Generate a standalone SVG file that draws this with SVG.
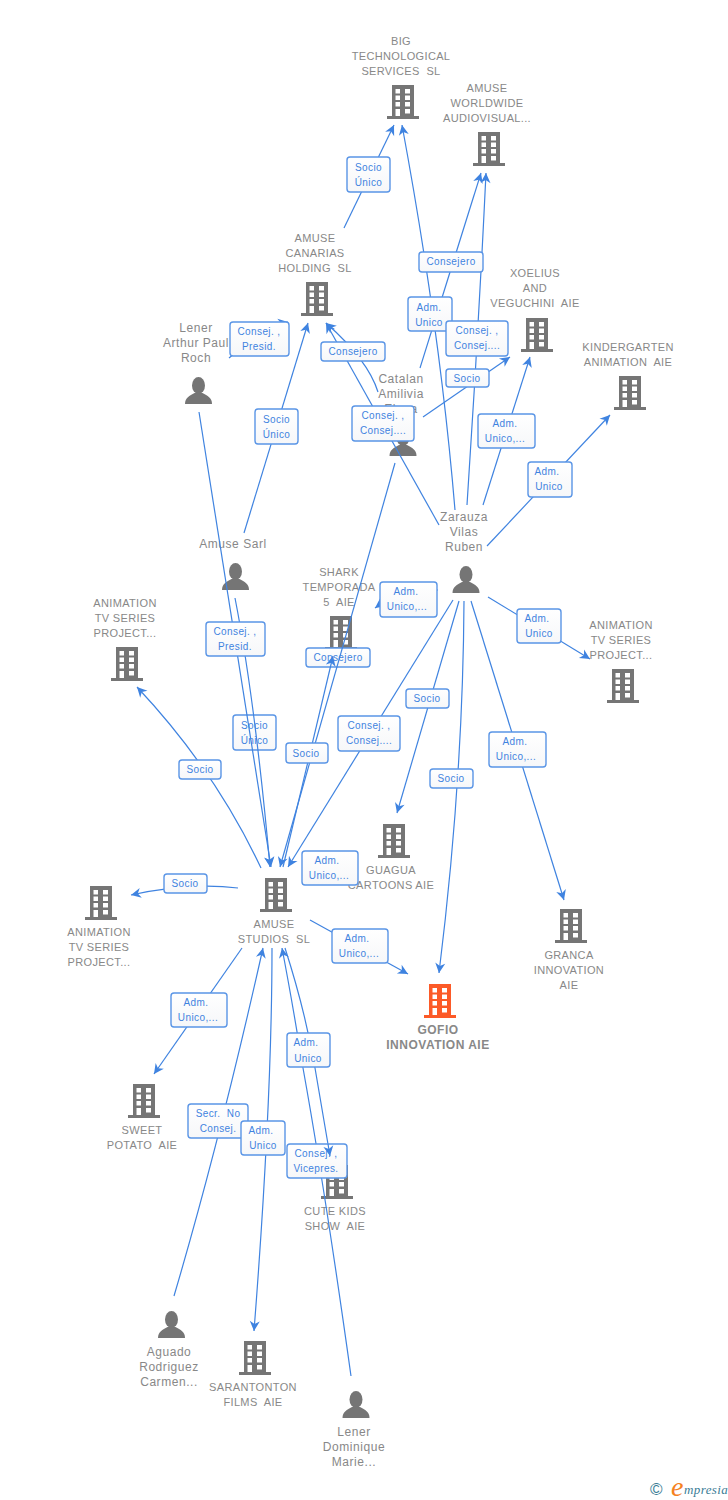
<svg xmlns="http://www.w3.org/2000/svg" width="728" height="1500" viewBox="0 0 728 1500">
<style>
text{font-family:"Liberation Sans",Arial,sans-serif;white-space:pre}
.n{font-size:11px;fill:#888;text-anchor:middle;letter-spacing:.35px}
.p{font-size:12px;fill:#888;text-anchor:middle;letter-spacing:.55px}
.g{font-size:12px;fill:#888;text-anchor:middle;font-weight:bold;letter-spacing:.5px}
.ic{fill:#757575}
.or{fill:#fc5a28}
.c{fill:none;stroke:#3f83e0;stroke-width:1.2;marker-end:url(#a)}
.b{fill:url(#lg);stroke:#5a95e6;stroke-width:1.4}
.t{font-size:10px;fill:#3f83e0;text-anchor:middle;letter-spacing:.4px}
</style>
<defs>
<linearGradient id="lg" x1="0" y1="0" x2="0" y2="1"><stop offset="0" stop-color="#fff"/><stop offset="1" stop-color="#f6f7f9"/></linearGradient>
<marker id="a" markerUnits="userSpaceOnUse" markerWidth="12" markerHeight="12" viewBox="0 0 12 12" refX="11" refY="6" orient="auto"><path d="M11,6 L1,1 L4,6 L1,11 Z" fill="#3f83e0"/></marker>
<path id="bd" fill-rule="evenodd" d="M-11,0H11V31H16V34H-16V31H-11ZM-7.5,4V8.5H-3V4ZM2,4V8.5H7V4ZM-7.5,10.5V15H-3V10.5ZM2,10.5V15H7V10.5ZM-7.5,17V21.5H-3V17ZM2,17V21.5H7V17ZM-7.5,24V31H-3V24ZM2,24V28.5H7V24Z"/>
<g id="pr"><ellipse cx="0" cy="8.5" rx="6.5" ry="8.5"/><path d="M-13.5,27C-13.5,20.5 -9,19 -4,16L4,16C9,19 13.5,20.5 13.5,27Z"/></g>
</defs>

<g id="nodes">
<g id="n-big"><use href="#bd" x="403" y="85" class="ic"/><text class="n" x="401" y="45">BIG</text><text class="n" x="401" y="60">TECHNOLOGICAL</text><text class="n" x="401" y="75">SERVICES  SL</text></g>
<g id="n-worldwide"><use href="#bd" x="489" y="132" class="ic"/><text class="n" x="487" y="92">AMUSE</text><text class="n" x="487" y="107">WORLDWIDE</text><text class="n" x="487" y="122">AUDIOVISUAL...</text></g>
<g id="n-canarias"><use href="#bd" x="317" y="282" class="ic"/><text class="n" x="315" y="242">AMUSE</text><text class="n" x="315" y="257">CANARIAS</text><text class="n" x="315" y="272">HOLDING  SL</text></g>
<g id="n-xoelius"><use href="#bd" x="537" y="318" class="ic"/><text class="n" x="535" y="277">XOELIUS</text><text class="n" x="535" y="292">AND</text><text class="n" x="535" y="307">VEGUCHINI  AIE</text></g>
<g id="n-kinder"><use href="#bd" x="630" y="376" class="ic"/><text class="n" x="628" y="351">KINDERGARTEN</text><text class="n" x="628" y="366">ANIMATION  AIE</text></g>
<g id="n-lener-a"><use href="#pr" x="198.500" y="377" class="ic"/><text class="p" x="196" y="332">Lener</text><text class="p" x="196" y="347">Arthur Paul</text><text class="p" x="196" y="362">Roch</text></g>
<g id="n-catalan"><use href="#pr" x="403" y="429" class="ic"/><text class="p" x="401" y="383">Catalan</text><text class="p" x="401" y="398">Amilivia</text><text class="p" x="401" y="413">Elena</text></g>
<g id="n-sarl"><use href="#pr" x="235.500" y="563" class="ic"/><text class="p" x="233" y="548">Amuse Sarl</text></g>
<g id="n-zarauza"><use href="#pr" x="466" y="566" class="ic"/><text class="p" x="464" y="521">Zarauza</text><text class="p" x="464" y="536">Vilas</text><text class="p" x="464" y="551">Ruben</text></g>
<g id="n-shark"><use href="#bd" x="341" y="616" class="ic"/><text class="n" x="339" y="576">SHARK</text><text class="n" x="339" y="591">TEMPORADA</text><text class="n" x="339" y="606">5  AIE</text></g>
<g id="n-anim1"><use href="#bd" x="127" y="647" class="ic"/><text class="n" x="125" y="607">ANIMATION</text><text class="n" x="125" y="622">TV SERIES</text><text class="n" x="125" y="637">PROJECT...</text></g>
<g id="n-anim2"><use href="#bd" x="623" y="669" class="ic"/><text class="n" x="621" y="629">ANIMATION</text><text class="n" x="621" y="644">TV SERIES</text><text class="n" x="621" y="659">PROJECT...</text></g>
<g id="n-guagua"><use href="#bd" x="394" y="824" class="ic"/><text class="n" x="391" y="874">GUAGUA</text><text class="n" x="391" y="889">CARTOONS AIE</text></g>
<g id="n-studios"><use href="#bd" x="276" y="878" class="ic"/><text class="n" x="274" y="928">AMUSE</text><text class="n" x="274" y="943">STUDIOS  SL</text></g>
<g id="n-anim3"><use href="#bd" x="101" y="886" class="ic"/><text class="n" x="99" y="936">ANIMATION</text><text class="n" x="99" y="951">TV SERIES</text><text class="n" x="99" y="966">PROJECT...</text></g>
<g id="n-gofio"><use href="#bd" x="440" y="984" class="or"/><text class="g" x="438" y="1034">GOFIO</text><text class="g" x="438" y="1049">INNOVATION AIE</text></g>
<g id="n-granca"><use href="#bd" x="571" y="909" class="ic"/><text class="n" x="569" y="959">GRANCA</text><text class="n" x="569" y="974">INNOVATION</text><text class="n" x="569" y="989">AIE</text></g>
<g id="n-sweet"><use href="#bd" x="144" y="1084" class="ic"/><text class="n" x="142" y="1134">SWEET</text><text class="n" x="142" y="1149">POTATO  AIE</text></g>
<g id="n-cute"><use href="#bd" x="337" y="1165" class="ic"/><text class="n" x="335" y="1215">CUTE KIDS</text><text class="n" x="335" y="1230">SHOW  AIE</text></g>
<g id="n-aguado"><use href="#pr" x="171.500" y="1311" class="ic"/><text class="p" x="169" y="1356">Aguado</text><text class="p" x="169" y="1371">Rodriguez</text><text class="p" x="169" y="1386">Carmen...</text></g>
<g id="n-sarantonton"><use href="#bd" x="255" y="1341" class="ic"/><text class="n" x="253" y="1391">SARANTONTON</text><text class="n" x="253" y="1406">FILMS  AIE</text></g>
<g id="n-lener-d"><use href="#pr" x="356" y="1391" class="ic"/><text class="p" x="354" y="1436">Lener</text><text class="p" x="354" y="1451">Dominique</text><text class="p" x="354" y="1466">Marie...</text></g>
</g>

<g id="connectors">
<g id="labels-under">
<g><rect class="b" x="233" y="715" width="43" height="35" rx="3"/><text class="t" x="254.500" y="729">Socio</text><text class="t" x="254.500" y="744">Único</text></g>
<g><rect class="b" x="306" y="648" width="64" height="19" rx="3"/><text class="t" x="338" y="661">Consejero</text></g>
</g>
<g id="lines">
<path class="c" d="M344,228L394,125"/>
<path class="c" d="M455,510Q440,330 402,125"/>
<path class="c" d="M420,368L481,173"/>
<path class="c" d="M467,505Q478,340 486,173"/>
<path class="c" d="M423,417L510,357"/>
<path class="c" d="M483,505L530,357"/>
<path class="c" d="M487,546L610,415"/>
<path class="c" d="M229,358Q270,325 288,322"/>
<path class="c" d="M244,533L308,323"/>
<path class="c" d="M439,525L326,323"/>
<path class="c" d="M378,392Q368,360 326,323"/>
<path class="c" d="M199,412L271,867"/>
<path class="c" d="M235,598Q255,700 270,867"/>
<path class="c" d="M395,463L280,867"/>
<path class="c" d="M283,867L333,656"/>
<path class="c" d="M438,590Q400,590 375,608"/>
<path class="c" d="M453,600L288,867"/>
<path class="c" d="M459,601L397,813"/>
<path class="c" d="M464,601Q463,780 439,973"/>
<path class="c" d="M471,601L564,900"/>
<path class="c" d="M488,597L590,659"/>
<path class="c" d="M261,868Q215,770 137,687"/>
<path class="c" d="M238,888Q190,882 131,895"/>
<path class="c" d="M310,920L408,974"/>
<path class="c" d="M242,948L154,1074"/>
<path class="c" d="M174,1296Q220,1140 263,948"/>
<path class="c" d="M272,948Q272,1100 254,1331"/>
<path class="c" d="M351,1376Q325,1190 303,1068Q292,1000 282,948"/>
<path class="c" d="M285,948Q305,1010 315,1068L330,1156"/>
</g>
<g id="labels">
<g><rect class="b" x="347" y="157" width="43" height="35" rx="3"/><text class="t" x="368.500" y="171">Socio</text><text class="t" x="368.500" y="186">Único</text></g>
<g><rect class="b" x="419" y="252" width="64" height="20" rx="3"/><text class="t" x="451" y="265">Consejero</text></g>
<g><rect class="b" x="408" y="297" width="44" height="34" rx="3"/><text class="t" x="429" y="311">Adm.</text><text class="t" x="429" y="326">Unico</text></g>
<g><rect class="b" x="446" y="321" width="62" height="35" rx="3"/><text class="t" x="477" y="334">Consej. ,</text><text class="t" x="477" y="349">Consej....</text></g>
<g><rect class="b" x="230" y="322" width="59" height="34" rx="3"/><text class="t" x="259" y="335">Consej. ,</text><text class="t" x="259" y="350">Presid.</text></g>
<g><rect class="b" x="321" y="342" width="64" height="19" rx="3"/><text class="t" x="353" y="355">Consejero</text></g>
<g><rect class="b" x="446" y="369" width="43" height="18" rx="3"/><text class="t" x="467" y="382">Socio</text></g>
<g><rect class="b" x="255" y="409" width="43" height="35" rx="3"/><text class="t" x="276.500" y="423">Socio</text><text class="t" x="276.500" y="438">Único</text></g>
<g><rect class="b" x="352" y="406" width="62" height="35" rx="3"/><text class="t" x="383" y="419">Consej. ,</text><text class="t" x="383" y="434">Consej....</text></g>
<g><rect class="b" x="478" y="414" width="57" height="34" rx="3"/><text class="t" x="505" y="427">Adm.</text><text class="t" x="505" y="442">Unico,...</text></g>
<g><rect class="b" x="528" y="462" width="44" height="35" rx="3"/><text class="t" x="547" y="475">Adm.</text><text class="t" x="549" y="490">Unico</text></g>
<g><rect class="b" x="380" y="582" width="57" height="35" rx="3"/><text class="t" x="406" y="595">Adm.</text><text class="t" x="407" y="610">Unico,...</text></g>
<g><rect class="b" x="206" y="622" width="59" height="34" rx="3"/><text class="t" x="235" y="635">Consej. ,</text><text class="t" x="235" y="650">Presid.</text></g>
<g><rect class="b" x="517" y="609" width="44" height="34" rx="3"/><text class="t" x="537" y="622">Adm.</text><text class="t" x="539" y="637">Unico</text></g>
<g><rect class="b" x="338" y="716" width="62" height="35" rx="3"/><text class="t" x="369" y="729">Consej. ,</text><text class="t" x="369" y="744">Consej....</text></g>
<g><rect class="b" x="406" y="689" width="43" height="19" rx="3"/><text class="t" x="427" y="702">Socio</text></g>
<g><rect class="b" x="286" y="743" width="42" height="20" rx="3"/><text class="t" x="306" y="757">Socio</text></g>
<g><rect class="b" x="489" y="732" width="57" height="35" rx="3"/><text class="t" x="515" y="745">Adm.</text><text class="t" x="516" y="760">Unico,...</text></g>
<g><rect class="b" x="179" y="760" width="42" height="19" rx="3"/><text class="t" x="200" y="773">Socio</text></g>
<g><rect class="b" x="430" y="769" width="43" height="19" rx="3"/><text class="t" x="451" y="782">Socio</text></g>
<g><rect class="b" x="302" y="851" width="56" height="34" rx="3"/><text class="t" x="327" y="864">Adm.</text><text class="t" x="329" y="879">Unico,...</text></g>
<g><rect class="b" x="164" y="874" width="43" height="19" rx="3"/><text class="t" x="185" y="887">Socio</text></g>
<g><rect class="b" x="332" y="929" width="56" height="34" rx="3"/><text class="t" x="357" y="942">Adm.</text><text class="t" x="359" y="957">Unico,...</text></g>
<g><rect class="b" x="171" y="993" width="56" height="34" rx="3"/><text class="t" x="196" y="1006">Adm.</text><text class="t" x="198" y="1021">Unico,...</text></g>
<g><rect class="b" x="287" y="1033" width="43" height="34" rx="3"/><text class="t" x="306" y="1046">Adm.</text><text class="t" x="308" y="1062">Unico</text></g>
<g><rect class="b" x="188" y="1104" width="60" height="34" rx="3"/><text class="t" x="218" y="1117">Secr.  No</text><text class="t" x="218" y="1132">Consej.</text></g>
<g><rect class="b" x="241" y="1121" width="44" height="34" rx="3"/><text class="t" x="261" y="1134">Adm.</text><text class="t" x="263" y="1149">Unico</text></g>
<g><rect class="b" x="287" y="1144" width="60" height="34" rx="3"/><text class="t" x="316" y="1157">Consej. ,</text><text class="t" x="316" y="1172">Vicepres.</text></g>
<path class="c" d="M328,1144L330,1156"/>
</g>
</g>

<g id="logo">
<text x="650" y="1495" font-size="17" fill="#3a7d96" style="font-family:'Liberation Sans',sans-serif">©</text>
<text x="671" y="1496" font-size="28" fill="#f5821f" font-style="italic" style="font-family:'Liberation Serif',serif">e</text>
<text x="684" y="1494" font-size="13" fill="#3a7d96" font-style="italic" letter-spacing=".4" style="font-family:'Liberation Serif',serif">mpresia</text>
</g>
</svg>
